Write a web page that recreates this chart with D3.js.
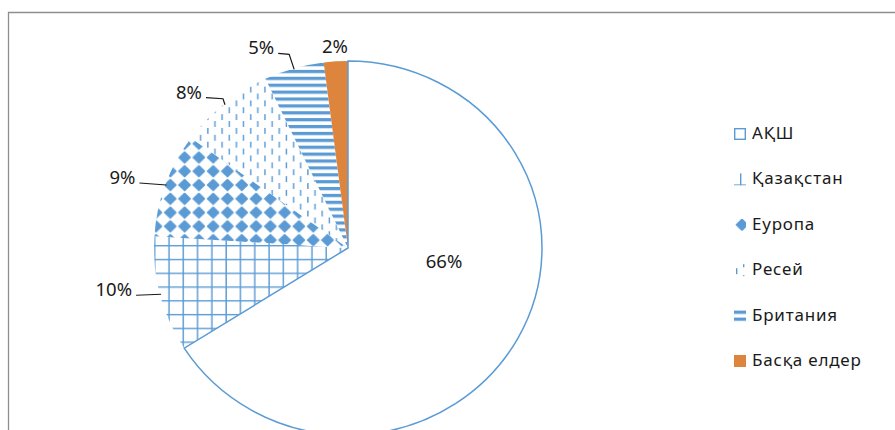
<!DOCTYPE html>
<html>
<head>
<meta charset="utf-8">
<script src="https://cdn.jsdelivr.net/npm/d3@7"></script>
<style>
  body { margin: 0; background: #fff; }
  svg { display: block; font-family: 'Noto Sans', sans-serif; }
</style>
</head>
<body>
<div id="chart"></div>
<script>
// chart data
const categories = ['АҚШ', 'Қазақстан', 'Еуропа', 'Ресей', 'Британия', 'Басқа елдер'];
const values = [66, 10, 9, 8, 5, 2];
const valueLabels = ['66%', '10%', '9%', '8%', '5%', '2%'];

const width = 895;
const height = 430;
const blue = '#5B9BD5';
const orange = '#DD843D';
const ink = '#1a1a1a';

const svg = d3.select('#chart').append('svg').attr('width', width).attr('height', height);
const defs = svg.append('defs');

/**
 * Excel-like pattern fills
 */
const makePattern = (id, w, h) => {
  const p = defs.append('pattern')
    .attr('id', id)
    .attr('patternUnits', 'userSpaceOnUse')
    .attr('width', w)
    .attr('height', h);
  p.append('rect').attr('width', w).attr('height', h).attr('fill', '#fff');
  return p;
};

// large grid
const pGrid = makePattern('p-grid', 14, 14);
pGrid.append('rect').attr('x', 6).attr('width', 1.4).attr('height', 14).attr('fill', blue);
pGrid.append('rect').attr('y', 11).attr('width', 14).attr('height', 1.4).attr('fill', blue);

// solid diamonds
const pDiamond = makePattern('p-diamond', 14, 14);
pDiamond.append('path').attr('d', 'M8,-0.6 L14.6,6 L8,12.6 L1.4,6 Z').attr('fill', blue);

// dashed vertical
const pDash = makePattern('p-dash', 14, 14);
pDash.append('rect').attr('x', 2).attr('y', 4).attr('width', 1.4).attr('height', 6).attr('fill', blue);
pDash.append('rect').attr('x', 9).attr('y', -3).attr('width', 1.4).attr('height', 6).attr('fill', blue);
pDash.append('rect').attr('x', 9).attr('y', 11).attr('width', 1.4).attr('height', 6).attr('fill', blue);

// dark horizontal
const pHorz = makePattern('p-horz', 7, 7);
pHorz.append('rect').attr('y', 1).attr('width', 7).attr('height', 3.3).attr('fill', blue);

const fills = ['#fff', 'url(#p-grid)', 'url(#p-diamond)', 'url(#p-dash)', 'url(#p-horz)', orange];

/**
 * Pie
 */
const cx = 348;
const cy = 248;
const r = 190;
const sx = 1.021;
const sy = 0.984;

const pie = d3.pie().sort(null).value((d) => d);
const arcs = pie(values);
const arc = d3.arc().innerRadius(0).outerRadius(r);

const pieG = svg.append('g').attr('transform', `translate(${cx},${cy}) scale(${sx},${sy})`);

pieG.selectAll('path')
  .data(arcs)
  .enter()
  .append('path')
  .attr('d', arc)
  .attr('fill', (d, i) => fills[i])
  .attr('stroke', (d, i) => (i === 0 ? blue : 'none'))
  .attr('stroke-width', 1.5)
  .attr('vector-effect', 'non-scaling-stroke');

// keep the outlined slice on top
pieG.selectAll('path').filter((d, i) => i === 0).raise();

/**
 * Data labels
 */
const outerPoint = (a, rr) => [cx + sx * rr * Math.sin(a), cy - sy * rr * Math.cos(a)];

// leader layout relative to the slice's outer mid point
const leaderLayout = [
  null,
  { end: [-25, 1] },
  { end: [-27, -2] },
  { elbow: [-2, -6], end: [-19, -7] },
  { elbow: [-5, -15], end: [-16, -16] },
  null,
];

const labelG = svg.append('g').style('font-size', '18.5px').attr('fill', ink);

arcs.forEach((d, i) => {
  const mid = (d.startAngle + d.endAngle) / 2;
  const p = outerPoint(mid, r - 1);
  const lay = leaderLayout[i];
  if (i === 0) {
    labelG.append('text')
      .text(valueLabels[i])
      .attr('x', cx + 96)
      .attr('y', cy + 20)
      .attr('text-anchor', 'middle');
  } else if (!lay) {
    labelG.append('text')
      .text(valueLabels[i])
      .attr('x', p[0] - 1)
      .attr('y', p[1] - 9)
      .attr('text-anchor', 'middle');
  } else {
    const pts = [p];
    if (lay.elbow) pts.push([p[0] + lay.elbow[0], p[1] + lay.elbow[1]]);
    const end = [p[0] + lay.end[0], p[1] + lay.end[1]];
    pts.push(end);
    svg.append('path')
      .attr('d', d3.line()(pts))
      .attr('fill', 'none')
      .attr('stroke', ink)
      .attr('stroke-width', 1.2);
    labelG.append('text')
      .text(valueLabels[i])
      .attr('x', end[0] - 4)
      .attr('y', end[1] + 1)
      .attr('text-anchor', 'end');
  }
});

/**
 * Legend
 */
const legendX = 734;
const legendY = 139;
const legendStep = 45.4;

const legend = svg.append('g')
  .style('font-size', '17px')
  .style('letter-spacing', '0.8px')
  .attr('fill', ink);

categories.forEach((c, i) => {
  const y = legendY + i * legendStep;
  const g = legend.append('g').attr('transform', `translate(${legendX},${y - 11})`);
  if (i === 0) {
    g.append('rect')
      .attr('x', 0.7).attr('y', 0.7)
      .attr('width', 10.6).attr('height', 10.6)
      .attr('fill', '#fff')
      .attr('stroke', blue)
      .attr('stroke-width', 1.4);
  } else {
    g.append('rect').attr('width', 12).attr('height', 12).attr('fill', fills[i]);
  }
  legend.append('text').text(c).attr('x', legendX + 18).attr('y', y);
});

// chart frame (cropped at right and bottom)
svg.append('path')
  .attr('d', `M8.5,${height} V12.5 H${width}`)
  .attr('fill', 'none')
  .attr('stroke', '#8e8e8e')
  .attr('stroke-width', 1.3);
</script>
</body>
</html>
